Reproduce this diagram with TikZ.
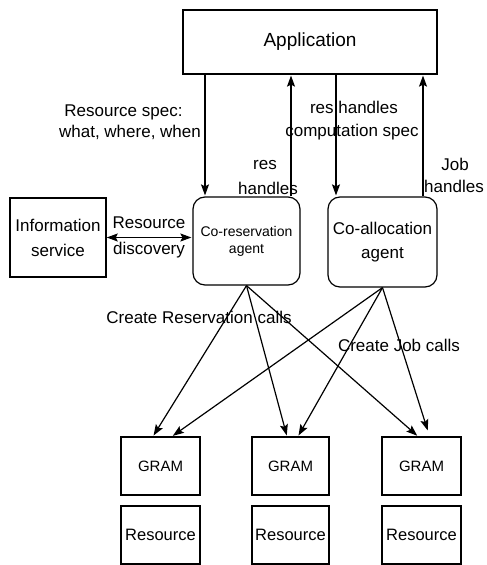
\documentclass[tikz,border=0pt]{standalone}
\usepackage{fontspec}
\setmainfont{Liberation Sans}
\usetikzlibrary{arrows.meta}

\begin{document}
\begin{tikzpicture}[x=1pt,y=-1pt,>={Stealth[length=11pt,width=8pt,inset=2pt]},shorten >=1pt,line width=1.2pt,
  box node/.style={draw,rectangle,inner sep=0pt,align=center,font=\fontsize{17}{25}\selectfont},
  agent node/.style={draw,rounded corners=12pt,inner sep=0pt,align=center},
  text node/.style={inner sep=0pt,font=\fontsize{17}{20}\selectfont}]

  \useasboundingbox (0,0) rectangle (487,565);

  \node[box node,minimum width=254pt,minimum height=64pt,font=\fontsize{19}{22}\selectfont] (app) at (310,42) {Application};
  \node[box node,minimum width=96pt,minimum height=79pt,line width=1.5pt] (info) at (58,237.5) {Information\\service};
  \node[agent node,minimum width=107pt,minimum height=88pt,font=\fontsize{14}{17}\selectfont] (cores) at (246.5,241) {Co-reservation\\agent};
  \node[agent node,minimum width=109pt,minimum height=90pt,font=\fontsize{17}{24}\selectfont] (coall) at (382.5,242) {Co-allocation\\agent};

  \node[box node,minimum width=79pt,minimum height=58pt,font=\fontsize{15}{18}\selectfont] (gram1) at (160.5,466) {GRAM};
  \node[box node,minimum width=77pt,minimum height=58pt,font=\fontsize{15}{18}\selectfont] (gram2) at (290.5,466) {GRAM};
  \node[box node,minimum width=79pt,minimum height=58pt,font=\fontsize{15}{18}\selectfont] (gram3) at (421.5,466) {GRAM};
  \node[box node,minimum width=79pt,minimum height=58pt,font=\fontsize{16.5}{18}\selectfont] (res1) at (160.5,535) {Resource};
  \node[box node,minimum width=77pt,minimum height=58pt,font=\fontsize{16.5}{18}\selectfont] (res2) at (290.5,535) {Resource};
  \node[box node,minimum width=79pt,minimum height=58pt,font=\fontsize{16.5}{18}\selectfont] (res3) at (421.5,535) {Resource};

  \node[text node] (spec1) at (123.5,112) {Resource spec:};
  \node[text node] (spec2) at (130,132) {what, where, when};
  \node[text node] (resh1) at (265,165) {res};
  \node[text node] (resh2) at (268,188) {handles};
  \node[text node] (comp1) at (354,107) {res handles};
  \node[text node] (comp2) at (352,132) {computation spec};
  \node[text node] (job1) at (455,164) {Job};
  \node[text node] (job2) at (454,186) {handles};
  \node[text node] (disc1) at (149,223) {Resource};
  \node[text node] (disc2) at (149,250) {discovery};
  \node[text node] (crcalls) at (199,317) {Create Reservation calls};
  \node[text node] (cjcalls) at (399,345) {Create Job calls};

  \coordinate (specin) at ([xshift=-41.5pt]cores.north);
  \coordinate (resout) at ([xshift=44.5pt]cores.north);
  \coordinate (compin) at ([xshift=-46.5pt]coall.north);
  \coordinate (jobout) at ([xshift=40.5pt]coall.north);

  \path[->]
    (app.south -| specin) edge (specin)
    (resout) edge (app.south -| resout)
    (app.south -| compin) edge (compin)
    (jobout) edge (app.south -| jobout)
    (info.east) edge[<->] (info.east -| cores.west)
    (cores.south) edge ([xshift=-7.5pt]gram1.north)
    (cores.south) edge ([xshift=-3.5pt]gram2.north)
    (cores.south) edge ([xshift=-3.5pt]gram3.north)
    (coall.south) edge ([xshift=11.5pt]gram1.north)
    (coall.south) edge ([xshift=7.5pt]gram2.north)
    (coall.south) edge ([xshift=6.5pt,yshift=5pt]gram3.north)
    ;
\end{tikzpicture}
\end{document}
